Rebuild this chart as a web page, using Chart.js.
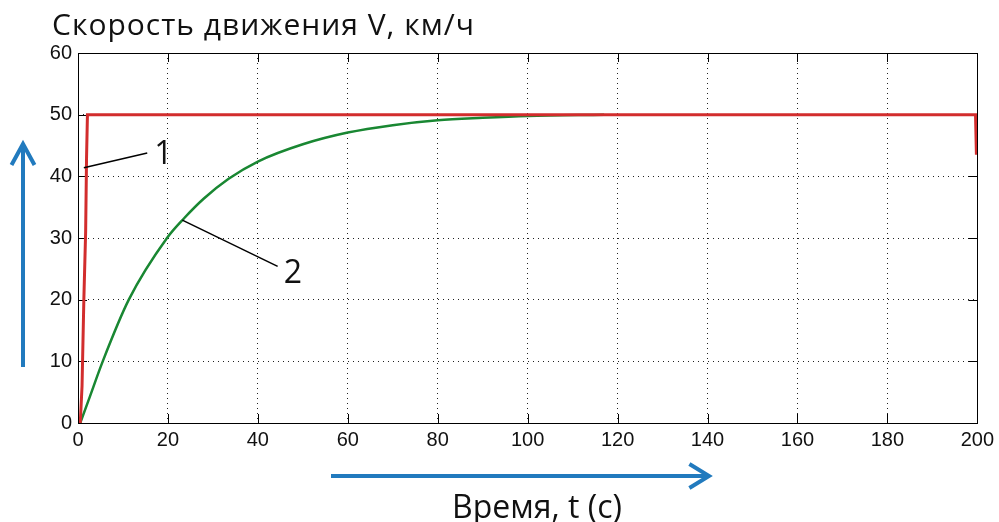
<!DOCTYPE html>
<html>
<head>
<meta charset="utf-8">
<script src="https://cdn.jsdelivr.net/npm/chart.js@4"></script>
<style>
  html, body { margin: 0; padding: 0; background: #fff; }
  #wrap { width: 999px; height: 522px; }
</style>
</head>
<body>
<div id="wrap"><canvas id="graph" width="999" height="522"></canvas></div>
<script>
// время, с / скорость, км/ч (кривая 1 - задание, кривая 2 - разгон)
var redT = [0, 0.5, 0.9, 1.3, 1.7, 1.9, 2.1, 199.6, 199.8];
var redV = [0, 0, 6, 20, 31, 43, 50, 50, 43.5];

var greenT = [0.5, 2.5, 5.5, 11.3, 19.8, 23.6, 28, 33.5, 40, 50, 60, 70, 80, 90, 100, 117];
var greenV = [0, 4, 10, 20, 30, 33.2, 36.4, 39.6, 42.4, 45.2, 47.1, 48.3, 49.1, 49.5, 49.8, 50];

var xTicks = [0, 20, 40, 60, 80, 100, 120, 140, 160, 180, 200];
var yTicks = [0, 10, 20, 30, 40, 50, 60];

var titleText = 'Скорость движения V, км/ч';
var xLabelText = 'Время, t (с)';

// выноски: [метка, t точки, V точки, t конца, V конца, t метки, V метки]
var callouts = [
    ['1', 1.3, 41.4, 15.4, 43.8, 19.0, 43.6],
    ['2', 23.2, 32.9, 44.4, 25.4, 47.8, 24.4]
];

function pts(ts, vs){
    var out = [];
    for (var i = 0; i < ts.length; i++) out.push({x: ts[i], y: vs[i]});
    return out;
}

var blue = 'rgb(33,122,190)';

function arrowHead(ctx, x, y, dx, dy, len, spread){
    // открытая стрелка (две линии)
    var a = Math.atan2(dy, dx);
    ctx.beginPath();
    ctx.moveTo(x - len * Math.cos(a - spread), y - len * Math.sin(a - spread));
    ctx.lineTo(x, y);
    ctx.lineTo(x - len * Math.cos(a + spread), y - len * Math.sin(a + spread));
    ctx.stroke();
}

var extras = {
    id: 'extras',
    beforeDatasetsDraw(chart){
        var ctx = chart.ctx, a = chart.chartArea;
        var xs = chart.scales.x, ys = chart.scales.y;
        ctx.save();
        ctx.strokeStyle = '#000';
        ctx.lineWidth = 1;
        // внутренние засечки как в MATLAB
        xTicks.forEach(function(t){
            var px = Math.round(xs.getPixelForValue(t)) + 0.5;
            ctx.beginPath();
            ctx.moveTo(px, a.bottom); ctx.lineTo(px, a.bottom - 9);
            ctx.moveTo(px, a.top); ctx.lineTo(px, a.top + 9);
            ctx.stroke();
        });
        yTicks.forEach(function(v){
            var py = Math.round(ys.getPixelForValue(v)) + 0.5;
            ctx.beginPath();
            ctx.moveTo(a.left, py); ctx.lineTo(a.left + 9, py);
            ctx.moveTo(a.right, py); ctx.lineTo(a.right - 9, py);
            ctx.stroke();
        });
        ctx.restore();
    },
    afterDraw(chart){
        var ctx = chart.ctx, a = chart.chartArea;
        var xs = chart.scales.x, ys = chart.scales.y;
        ctx.save();
        // рамка
        ctx.strokeStyle = '#000';
        ctx.lineWidth = 1;
        ctx.strokeRect(Math.round(a.left) + 0.5, Math.round(a.top) + 0.5,
            Math.round(a.right - a.left), Math.round(a.bottom - a.top));

        // выноски
        ctx.lineWidth = 1.5;
        ctx.fillStyle = '#111';
        ctx.font = '32px "Open Sans", sans-serif';
        ctx.textAlign = 'center';
        ctx.textBaseline = 'middle';
        callouts.forEach(function(c){
            ctx.beginPath();
            ctx.moveTo(xs.getPixelForValue(c[1]), ys.getPixelForValue(c[2]));
            ctx.lineTo(xs.getPixelForValue(c[3]), ys.getPixelForValue(c[4]));
            ctx.stroke();
            ctx.fillText(c[0], xs.getPixelForValue(c[5]), ys.getPixelForValue(c[6]) + 1);
        });

        // заголовок и подпись оси
        ctx.textBaseline = 'alphabetic';
        ctx.textAlign = 'left';
        ctx.font = '30px "Open Sans", sans-serif';
        ctx.letterSpacing = '1px';
        ctx.fillText(titleText, 52, 35);
        ctx.letterSpacing = '0px';
        ctx.textAlign = 'center';
        ctx.font = '32px "Open Sans", sans-serif';
        ctx.fillText(xLabelText, 537, 518);

        // синие стрелки
        ctx.strokeStyle = blue;
        ctx.lineWidth = 4;
        ctx.lineCap = 'butt';
        ctx.lineJoin = 'miter';
        ctx.beginPath();
        ctx.moveTo(23, 367); ctx.lineTo(23, 146);
        ctx.stroke();
        arrowHead(ctx, 23, 144, 0, -1, 24, 0.5);
        ctx.beginPath();
        ctx.moveTo(331, 476); ctx.lineTo(707, 476);
        ctx.stroke();
        arrowHead(ctx, 709, 476, 1, 0, 23, 0.55);
        ctx.restore();
    }
};

var tickFont = {family: '"Liberation Sans", Arial, sans-serif', size: 20};

var chart = new Chart(document.querySelector('#graph').getContext('2d'), {
    type: 'scatter',
    data: {
        datasets: [
            {
                label: '1',
                data: pts(redT, redV),
                showLine: true,
                borderColor: 'rgb(210,45,45)',
                borderWidth: 3,
                pointRadius: 0,
                tension: 0
            },
            {
                label: '2',
                data: pts(greenT, greenV),
                showLine: true,
                borderColor: 'rgb(25,135,50)',
                borderWidth: 2.5,
                pointRadius: 0,
                cubicInterpolationMode: 'monotone'
            }
        ]
    },
    plugins: [extras],
    options: {
        responsive: false,
        animation: false,
        layout: {padding: {left: 0, top: 53, right: 21, bottom: 0}},
        plugins: {
            legend: {display: false},
            title: {display: false},
            tooltip: {enabled: false}
        },
        scales: {
            x: {
                type: 'linear',
                min: 0,
                max: 200,
                afterBuildTicks(scale){ scale.ticks = xTicks.map(function(v){ return {value: v}; }); },
                afterFit(scale){ scale.height = 99; },
                ticks: {color: '#111', font: tickFont, padding: 5, maxRotation: 0},
                grid: {color: '#222', lineWidth: 1, drawTicks: false},
                border: {display: false, dash: [1, 4]}
            },
            y: {
                min: 0,
                max: 60,
                afterBuildTicks(scale){ scale.ticks = yTicks.map(function(v){ return {value: v}; }); },
                afterFit(scale){ scale.width = 78; },
                ticks: {color: '#111', font: tickFont, padding: 6},
                grid: {color: '#222', lineWidth: 1, drawTicks: false},
                border: {display: false, dash: [1, 4]}
            }
        }
    }
});
</script>
</body>
</html>
